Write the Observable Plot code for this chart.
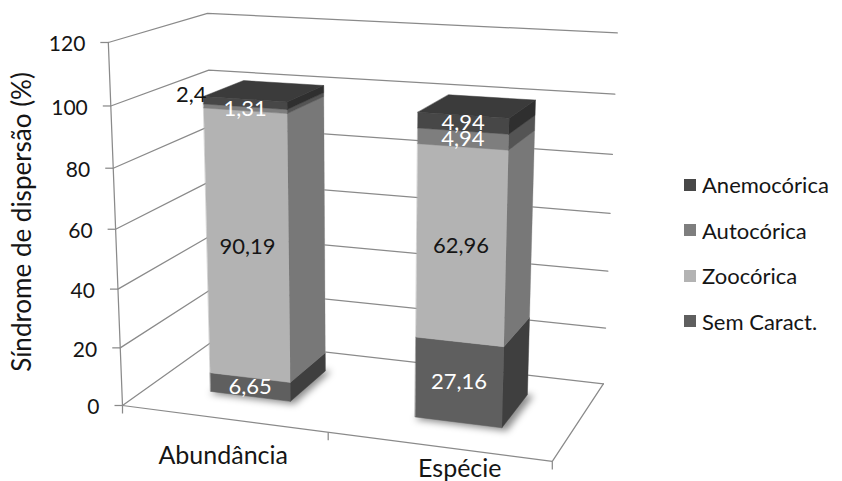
<!DOCTYPE html>
<html>
<head>
<meta charset="utf-8">
<script src="https://cdn.jsdelivr.net/npm/d3@7"></script>
<script src="https://cdn.jsdelivr.net/npm/@observablehq/plot@0.6"></script>
<style>
  html, body { margin: 0; padding: 0; background: #fff; }
  #chart { position: relative; width: 842px; height: 481px; overflow: hidden; font-family: Lato, sans-serif; }
  #chart > svg { position: absolute; left: 0; top: 0; }
  #legend { position: absolute; left: 684px; top: 162px; width: 158px; margin: 0; }
  #legend .lg-swatch { height: 45.5px; padding-bottom: 0; }
  #legend .lg-swatch > svg { margin-right: 6px; }
</style>
</head>
<body>
<div id="chart"></div>
<script>
// ---- data ----
const categories = ["Abundância", "Espécie"];
const seriesNames = ["Sem Caract.", "Zoocórica", "Autocórica", "Anemocórica"];
const semCaract = [6.65, 27.16];
const zoocorica = [90.19, 62.96];
const autocorica = [1.31, 4.94];
const anemocorica = [2.4, 4.94];
const yTicks = [0, 20, 40, 60, 80, 100, 120];
const yTitle = "Síndrome de dispersão (%)";

// ---- style ----
const seriesValues = [semCaract, zoocorica, autocorica, anemocorica];
const seriesColors = ["#5f5f5f", "#b3b3b3", "#7e7e7e", "#474747"];
const darkInk = "#151515";
const gridColor = "#8a8a8a";
const font = "Lato, sans-serif";
// label offsets below the category axis (screen pixels)
const categoryLabelOffset = [{dx: 0, dy: 37}, {dx: 22, dy: 22}];

// Perspective camera for the 3D box. World x runs 0..1 across the categories,
// y is the value (0..120) and z runs 0..1 from the front of the floor to the back wall.
const camera = [
  [384.5, -0.16863, 118.0, 122],
  [18.06, -3.0447, -25.96, 405],
  [-0.0821, -0.00046842, 0.118, 1]
];
const view = d3.geoTransform({
  point(x, y, z = 0) {
    const [a, b, c] = camera;
    const w = c[0] * x + c[1] * y + c[2] * z + c[3];
    this.stream.point(
      (a[0] * x + a[1] * y + a[2] * z + a[3]) / w,
      (b[0] * x + b[1] * y + b[2] * z + b[3]) / w
    );
  }
});

// Bar footprint inside the box
const barHalfWidth = 0.1;
const zFront = 0.3;
const zBack = 0.74;

// Stack the series for each category
const segments = [];
categories.forEach((category, i) => {
  const xc = (i + 0.5) / categories.length;
  let y0 = 0;
  seriesNames.forEach((series, j) => {
    const value = seriesValues[j][i];
    segments.push({
      category, series, value, xc,
      x0: xc - barHalfWidth, x1: xc + barHalfWidth,
      y0, y1: y0 + value,
      top: j === seriesNames.length - 1
    });
    y0 += value;
  });
});

const ring = (pts) => ({type: "Polygon", coordinates: [[...pts, pts[0]]]});
const faces = segments.flatMap((d) => {
  const {x0, x1, y0, y1} = d;
  const out = [
    {...d, face: "side", geometry: ring([[x1, y0, zFront], [x1, y0, zBack], [x1, y1, zBack], [x1, y1, zFront]])},
    {...d, face: "front", geometry: ring([[x0, y0, zFront], [x1, y0, zFront], [x1, y1, zFront], [x0, y1, zFront]])}
  ];
  if (d.top) out.push({...d, face: "top", geometry: ring([[x0, y1, zFront], [x1, y1, zFront], [x1, y1, zBack], [x0, y1, zBack]])});
  return out;
});

// soft shadow on the floor under each bar
const shadows = categories.map((c, i) => {
  const xc = (i + 0.5) / categories.length;
  const x0 = xc - barHalfWidth + 0.005, x1 = xc + barHalfWidth + 0.015;
  return ring([[x0, 0, zFront - 0.03], [x1, 0, zFront - 0.03], [x1, 0, zBack], [x0, 0, zBack]]);
});

// Walls: each gridline runs along the left wall and then across the back wall
const gridLines = yTicks.map((v) => ({type: "LineString", coordinates: [[0, v, 0], [0, v, 1], [1, v, 1]]}));
const frameLines = [
  {type: "LineString", coordinates: [[0, 0, 0], [1, 0, 0], [1, 0, 1]]},
  {type: "LineString", coordinates: [[0, 0, 0], [0, yTicks[yTicks.length - 1], 0]]}
];
const categoryTicks = d3.range(categories.length + 1).map((i) => i / categories.length);

const tickLeft = {draw(ctx, size) { const l = Math.sqrt(size / Math.PI); ctx.moveTo(0, 0); ctx.lineTo(-l, 0); }};
const tickDown = {draw(ctx, size) { const l = Math.sqrt(size / Math.PI); ctx.moveTo(0, 0); ctx.lineTo(0, l); }};

const fmt = (v) => String(v).replace(".", ",");
// the thin top slice of the first bar carries its label beside the bar
const outside = (d) => d.category === "Abundância" && d.series === "Anemocórica";
const lightLabel = (d) => !outside(d) && d.series !== "Zoocórica";
const labelPoint = (d) => ({type: "Point", coordinates: [outside(d) ? d.x0 : d.xc, (d.y0 + d.y1) / 2, zFront]});

const categoryLabels = categories.map((category, i) =>
  Plot.text([category], {
    x: (i + 0.5) / categories.length, y: 0, text: (d) => d,
    dx: categoryLabelOffset[i].dx, dy: categoryLabelOffset[i].dy,
    fontSize: 25, fill: darkInk
  })
);

const chart = Plot.plot({
  width: 842,
  height: 481,
  margin: 0,
  projection: view,
  style: {fontFamily: font, background: "#fff"},
  color: {domain: seriesNames, range: seriesColors},
  marks: [
    Plot.geo(gridLines, {stroke: gridColor, strokeWidth: 1.25}),
    Plot.geo(frameLines, {stroke: gridColor, strokeWidth: 1.25}),
    Plot.dot(yTicks, {x: 0, y: (d) => d, symbol: tickLeft, r: 8, stroke: gridColor, strokeWidth: 1.25, fill: "none"}),
    Plot.dot(categoryTicks, {x: (d) => d, y: 0, symbol: tickDown, r: 8, stroke: gridColor, strokeWidth: 1.25, fill: "none"}),
    Plot.text(yTicks, {x: 0, y: (d) => d, text: (d) => String(d), textAnchor: "end", dx: -23, dy: 2, fontSize: 21, fill: darkInk}),
    ...categoryLabels,
    Plot.text([yTitle], {frameAnchor: "left", text: (d) => d, rotate: -90, textAnchor: "middle", lineAnchor: "middle", dx: 22, dy: -19, fontSize: 26, fill: darkInk}),
    Plot.geo(shadows, {fill: "black", fillOpacity: 0.45, ariaDescription: "bar shadow"}),
    // bar faces, then darker overlays for the sides and tops
    Plot.geo(faces, {geometry: "geometry", fill: "series", stroke: "series", strokeWidth: 0.5}),
    Plot.geo(faces.filter((f) => f.face === "side"), {geometry: "geometry", fill: "black", fillOpacity: 0.33}),
    Plot.geo(faces.filter((f) => f.face === "top"), {geometry: "geometry", fill: "black", fillOpacity: 0.16}),
    // value labels
    Plot.text(segments.filter(lightLabel), Plot.centroid({geometry: labelPoint, text: (d) => fmt(d.value), fill: "white", fontSize: 22})),
    Plot.text(segments.filter((d) => !lightLabel(d) && !outside(d)), Plot.centroid({geometry: labelPoint, text: (d) => fmt(d.value), fill: darkInk, fontSize: 22})),
    Plot.text(segments.filter(outside), Plot.centroid({geometry: labelPoint, text: (d) => fmt(d.value), fill: darkInk, fontSize: 22, textAnchor: "end", dx: 3, dy: -5}))
  ]
});

// blur for the floor shadows
const svg = d3.select(chart);
svg.insert("defs", ":first-child")
  .append("filter").attr("id", "bar-shadow-blur")
  .attr("x", "-30%").attr("y", "-30%").attr("width", "160%").attr("height", "160%")
  .append("feGaussianBlur").attr("stdDeviation", 3.5);
svg.selectAll('[aria-description="bar shadow"]').attr("filter", "url(#bar-shadow-blur)");

const legend = Plot.legend({
  color: {domain: [...seriesNames].reverse(), range: [...seriesColors].reverse()},
  legend: "swatches",
  columns: 1,
  swatchSize: 12,
  className: "lg",
  style: {fontFamily: font, fontSize: "22px", color: darkInk}
});
legend.id = "legend";

const root = document.getElementById("chart");
root.appendChild(chart);
root.appendChild(legend);
</script>
</body>
</html>
